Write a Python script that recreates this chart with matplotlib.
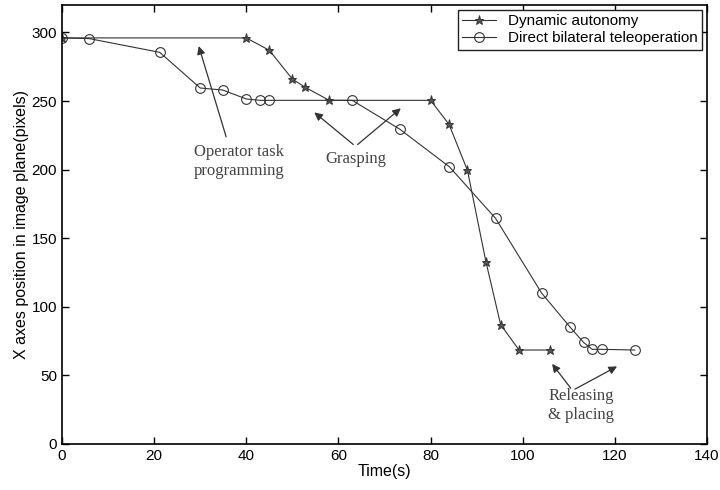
import matplotlib
matplotlib.use("Agg")
import matplotlib.pyplot as plt

# Dynamic autonomy (stars)
t_dyn = [0, 40, 45, 50, 52.8, 58, 80, 84, 88, 92, 95.2, 99.2, 106]
x_dyn = [296, 296, 287, 266, 260, 250.5, 250.5, 233, 199.5, 133, 87, 68.5, 68.5]

# Direct bilateral teleoperation (circles)
t_dir = [0, 5.9, 21.2, 30, 34.9, 40, 43, 45, 63, 73.3, 84.1, 94.1, 104.1, 110.2, 113.2, 115.1, 117.1, 124.3]
x_dir = [296, 295.5, 285.5, 259.5, 258, 251.5, 250.5, 250.5, 250.5, 229.5, 202, 164.5, 110, 85.5, 74, 69, 69, 68.5]

plt.rcParams['font.family'] = ['Liberation Sans', 'DejaVu Sans']

fig = plt.figure(figsize=(7.2, 4.9), dpi=100)
ax = fig.add_axes([0.0861, 0.0939, 0.8959, 0.8959])

ax.plot(t_dyn, x_dyn, color='#333333', lw=0.8, marker='*', ms=6.5,
        mfc='#555555', mec='#333333', mew=0.7, label='Dynamic autonomy')
ax.plot(t_dir, x_dir, color='#333333', lw=0.8, marker='o', ms=7,
        mfc='none', mec='#333333', mew=0.8, label='Direct bilateral teleoperation')

ax.set_xlim(0, 140)
ax.set_ylim(0, 320)
ax.set_xticks(range(0, 141, 20))
ax.set_yticks(range(0, 301, 50))
ax.tick_params(direction='in', top=True, right=True, labelsize=11, length=5, width=1)
for s in ax.spines.values():
    s.set_linewidth(1.2)

ax.set_xlabel('Time(s)', fontsize=11.5, labelpad=1)
ax.set_ylabel('X axes position in image plane(pixels)', fontsize=11.5, labelpad=2)

leg = ax.legend(loc='upper right', fontsize=11, fancybox=False, framealpha=1,
                edgecolor='#222222', borderaxespad=0.3, handlelength=2.2,
                borderpad=0.3, labelspacing=0.2)
leg.get_frame().set_linewidth(1)

ann = dict(fontsize=12, family=['Liberation Serif', 'DejaVu Serif'], color='#444444',
           ha='center', va='center', multialignment='center', linespacing=1.3)
arr = dict(arrowstyle='-|>', color='#333333', lw=0.9, mutation_scale=12)

ax.text(38.5, 206, 'Operator task\nprogramming', **ann)
ax.annotate('', xy=(29.5, 292), xytext=(35.8, 222), arrowprops=arr)

ax.text(63.7, 208, 'Grasping', **ann)
ax.annotate('', xy=(54.3, 243), xytext=(63.7, 217), arrowprops=arr)
ax.annotate('', xy=(74, 246), xytext=(63.7, 217), arrowprops=arr)

ax.text(112.7, 28, 'Releasing\n& placing', **ann)
ax.annotate('', xy=(106, 60), xytext=(110.8, 39), arrowprops=arr)
ax.annotate('', xy=(121, 57.5), xytext=(110.8, 39), arrowprops=arr)

fig.savefig('out.png', dpi=100)
